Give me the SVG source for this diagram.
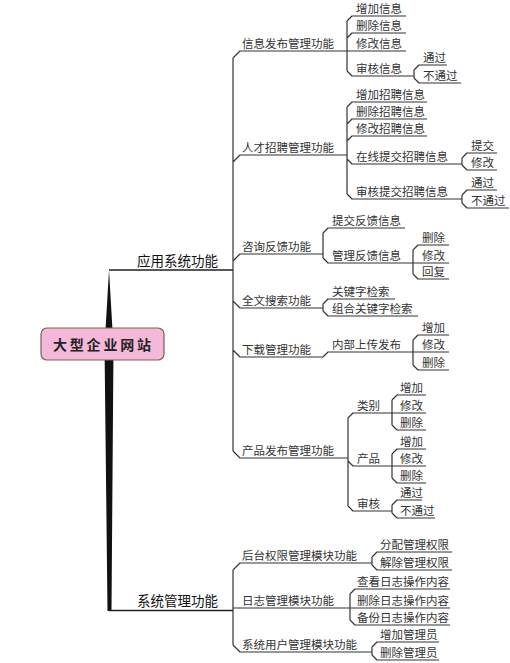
<svg xmlns="http://www.w3.org/2000/svg" width="510" height="663" viewBox="0 0 510 663">
<style>
.c{fill:none;stroke:#333;stroke-width:1.2;stroke-linejoin:round}
.m{fill:none;stroke:#222;stroke-width:1.6}
.t{font-family:"Noto Sans CJK SC","Noto Sans",sans-serif;font-size:11.5px;fill:#333}
.b{font-family:"Noto Sans CJK SC","Noto Sans",sans-serif;font-size:13.5px;fill:#111}
.r{font-family:"Noto Sans CJK SC","Noto Sans",sans-serif;font-size:14px;font-weight:bold;fill:#222;letter-spacing:2.8px}
</style>
<rect width="510" height="663" fill="#fff"/>
<g id="connectors">
<polygon points="109,270 112.5,330 113.5,345 111.5,611 107.5,611 104.5,345 105.5,330" fill="#111"/>
<path class="m" d="M109,270 H233 M109,610.5 H233"/>
<path class="c" d="M233,58 V451 M233,58 L240,51 H347 M233,162 L240,155 H347 M233,261 L240,254 H323 M233,301 L240,308 H323 M233,350 L240,357 H323 M233,451 L240,458 H348"/>
<path class="c" d="M347,21 V71 M347,21 L352,16 H406 M347,38 L352,33 H406 M347,51 H406 M347,71 L352,76 H414 M414,70 V78 M414,70 L419,65 H447 M414,78 L419,83 H461"/>
<path class="c" d="M347,107 V194 M347,107 L352,102 H427 M347,124 L352,119 H427 M347,141 L352,136 H427 M347,159 L352,164 H462 M462,158 V165 M462,158 L467,153 H497 M462,165 L467,170 H497 M347,194 L352,199 H462 M462,195 V203 M462,195 L467,190 H497 M462,203 L467,208 H509"/>
<path class="c" d="M323,233 V258 M323,233 L328,228 H405 M323,258 L328,263 H413 M413,250 V274 M413,250 L418,245 H449 M413,263 H449 M413,274 L418,279 H449"/>
<path class="c" d="M323,304 V311 M323,304 L328,299 H395 M323,311 L328,316 H418"/>
<path class="c" d="M323,357 L328,352 H413 M413,340 V365 M413,340 L418,335 H449 M413,352 H449 M413,365 L418,370 H449"/>
<path class="c" d="M348,418 V506 M348,418 L353,413 H392 M392,400 V425 M392,400 L397,395 H426 M392,413 H426 M392,425 L397,430 H426 M348,461 L353,466 H392 M392,454 V478 M392,454 L397,449 H426 M392,466 H426 M392,478 L397,483 H426 M348,506 L353,511 H392 M392,505 V513 M392,505 L397,500 H422 M392,513 L397,518 H435"/>
<path class="c" d="M233,570 V645 M233,570 L240,563 H372 M372,557 V565 M372,557 L377,552 H452 M372,565 L377,570 H452 M233,608 H350 M350,594 V620 M350,594 L355,589 H450 M350,608 H450 M350,620 L355,625 H450 M233,645 L240,652 H372 M372,647 V655 M372,647 L377,642 H439 M372,655 L377,660 H439"/>
</g>
<g id="root"><rect x="41" y="328" width="123" height="32" rx="6" fill="#f5b8d9" stroke="#7a6250" stroke-width="1.2"/><text class="r" x="53" y="350">大型企业网站</text></g>
<g id="app"><text class="b" x="137" y="266">应用系统功能</text></g>
<g id="sys"><text class="b" x="137" y="606">系统管理功能</text></g>
<g id="n1"><text class="t" x="242" y="48">信息发布管理功能</text></g>
<g id="n1a"><text class="t" x="356" y="13">增加信息</text></g>
<g id="n1b"><text class="t" x="356" y="30">删除信息</text></g>
<g id="n1c"><text class="t" x="356" y="48">修改信息</text></g>
<g id="n1d"><text class="t" x="356" y="73">审核信息</text></g>
<g id="n1d1"><text class="t" x="423" y="62">通过</text></g>
<g id="n1d2"><text class="t" x="423" y="80">不通过</text></g>
<g id="n2"><text class="t" x="242" y="152">人才招聘管理功能</text></g>
<g id="n2a"><text class="t" x="356" y="99">增加招聘信息</text></g>
<g id="n2b"><text class="t" x="356" y="116">删除招聘信息</text></g>
<g id="n2c"><text class="t" x="356" y="133">修改招聘信息</text></g>
<g id="n2d"><text class="t" x="356" y="161">在线提交招聘信息</text></g>
<g id="n2d1"><text class="t" x="471" y="150">提交</text></g>
<g id="n2d2"><text class="t" x="471" y="167">修改</text></g>
<g id="n2e"><text class="t" x="356" y="196">审核提交招聘信息</text></g>
<g id="n2e1"><text class="t" x="471" y="187">通过</text></g>
<g id="n2e2"><text class="t" x="471" y="205">不通过</text></g>
<g id="n3"><text class="t" x="242" y="251">咨询反馈功能</text></g>
<g id="n3a"><text class="t" x="332" y="225">提交反馈信息</text></g>
<g id="n3b"><text class="t" x="332" y="260">管理反馈信息</text></g>
<g id="n3b1"><text class="t" x="422" y="242">删除</text></g>
<g id="n3b2"><text class="t" x="422" y="260">修改</text></g>
<g id="n3b3"><text class="t" x="422" y="276">回复</text></g>
<g id="n4"><text class="t" x="242" y="305">全文搜索功能</text></g>
<g id="n4a"><text class="t" x="332" y="296">关键字检索</text></g>
<g id="n4b"><text class="t" x="332" y="313">组合关键字检索</text></g>
<g id="n5"><text class="t" x="242" y="354">下载管理功能</text></g>
<g id="n5a"><text class="t" x="332" y="349">内部上传发布</text></g>
<g id="n5a1"><text class="t" x="422" y="332">增加</text></g>
<g id="n5a2"><text class="t" x="422" y="349">修改</text></g>
<g id="n5a3"><text class="t" x="422" y="367">删除</text></g>
<g id="n6"><text class="t" x="242" y="455">产品发布管理功能</text></g>
<g id="n6a"><text class="t" x="357" y="410">类别</text></g>
<g id="n6a1"><text class="t" x="400" y="392">增加</text></g>
<g id="n6a2"><text class="t" x="400" y="410">修改</text></g>
<g id="n6a3"><text class="t" x="400" y="427">删除</text></g>
<g id="n6b"><text class="t" x="357" y="463">产品</text></g>
<g id="n6b1"><text class="t" x="400" y="446">增加</text></g>
<g id="n6b2"><text class="t" x="400" y="463">修改</text></g>
<g id="n6b3"><text class="t" x="400" y="480">删除</text></g>
<g id="n6c"><text class="t" x="357" y="508">审核</text></g>
<g id="n6c1"><text class="t" x="400" y="497">通过</text></g>
<g id="n6c2"><text class="t" x="400" y="515">不通过</text></g>
<g id="n7"><text class="t" x="242" y="560">后台权限管理模块功能</text></g>
<g id="n7a"><text class="t" x="380" y="549">分配管理权限</text></g>
<g id="n7b"><text class="t" x="380" y="567">解除管理权限</text></g>
<g id="n8"><text class="t" x="242" y="605">日志管理模块功能</text></g>
<g id="n8a"><text class="t" x="357" y="586">查看日志操作内容</text></g>
<g id="n8b"><text class="t" x="357" y="605">删除日志操作内容</text></g>
<g id="n8c"><text class="t" x="357" y="622">备份日志操作内容</text></g>
<g id="n9"><text class="t" x="242" y="649">系统用户管理模块功能</text></g>
<g id="n9a"><text class="t" x="380" y="639">增加管理员</text></g>
<g id="n9b"><text class="t" x="380" y="657">删除管理员</text></g>
</svg>
